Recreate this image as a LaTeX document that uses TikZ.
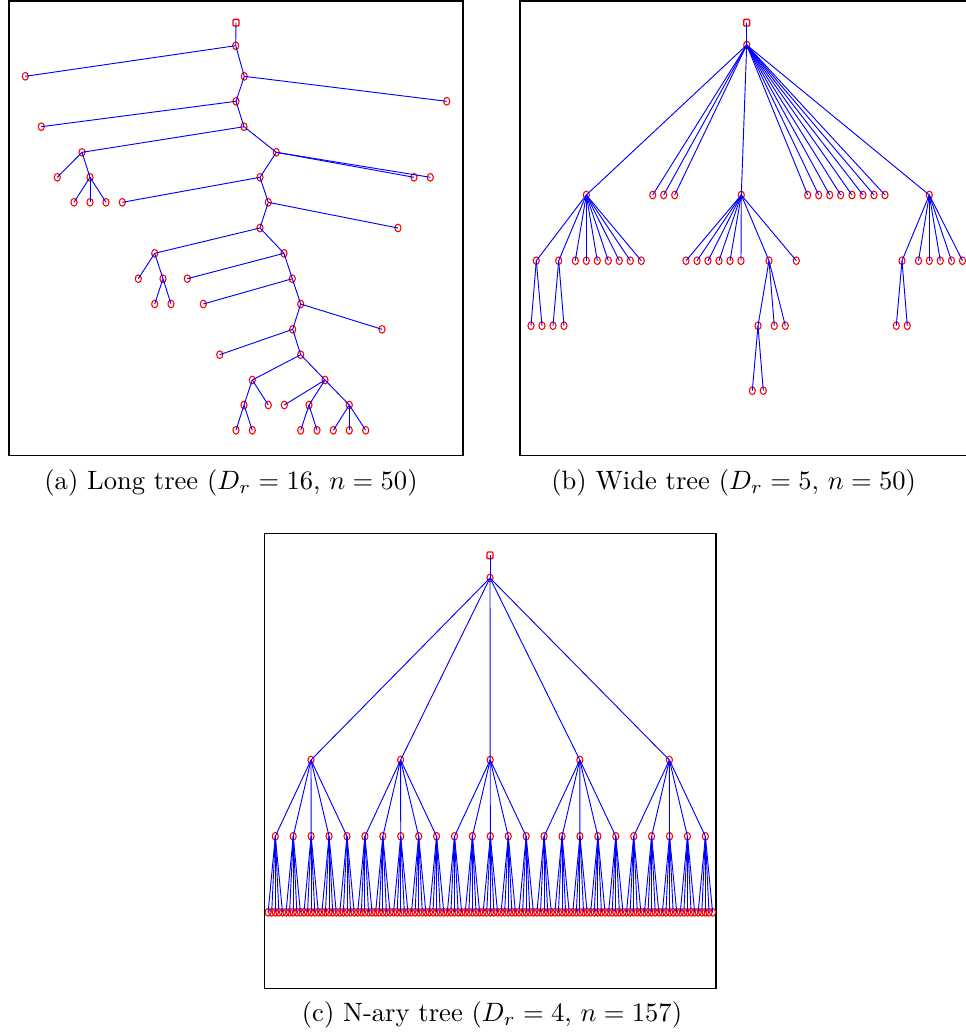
\documentclass[tikz,border=0pt]{standalone}
\usepackage{amsmath}
\usetikzlibrary{shapes.geometric}

\begin{document}
\begin{tikzpicture}[x=0.3766pt, y=-0.3766pt,
  vtx/.style={draw=red, ellipse, line width=0.4pt, inner sep=0pt, minimum width=2.3pt, minimum height=2.9pt},
  rootvtx/.style={draw=red, rectangle, rounded corners=0.4pt, line width=0.5pt, inner sep=0pt, minimum width=2.3pt, minimum height=2.5pt},
  edge/.style={blue, line width=0.35pt},
  frame/.style={line width=0.55pt}]
  \useasboundingbox (0,0) rectangle (966,1033);
  \clip (0,0) rectangle (966,1033);

  % === LONG TREE ===
  \draw[frame] (9,0.8) rectangle (463,455.5);
  \node[rootvtx] (a0) at (236,22.7) {};
  \foreach \i/\x/\y in {1/235.7/45.7, 2/25.3/76.3, 3/244.3/76.3, 4/446.7/101.3, 5/236/101.3,
      6/41.3/126.7, 7/244/126.7, 8/82/152.3, 9/276.3/152.3, 10/57.3/177.3, 11/90/177.3,
      12/74/202.3, 13/90/202.3, 14/106/202.3, 15/414/177.3, 16/430.3/177.3, 17/260/177.3,
      18/122.3/202.3, 19/268.3/202.3, 20/398/228, 21/260/228, 22/154.7/253.3, 23/284/253.3,
      24/138.3/278.7, 25/163/278.7, 26/154.7/304, 27/171/304, 28/187.3/278.7, 29/292.3/278.7,
      30/203.3/304, 31/300.7/304, 32/382/329.3, 33/292.7/329.3, 34/219.7/354.7, 35/300.7/354.7,
      36/252.3/380, 37/325/380, 38/244/405, 39/268.3/405, 40/236/430.3, 41/252.3/430.3,
      42/284.3/405, 43/309/405, 44/349.3/405, 45/300.7/430.3, 46/317/430.3,
      47/333.3/430.3, 48/349.3/430.3, 49/365.7/430.3}
    \node[vtx] (a\i) at (\x,\y) {};
  \foreach \p/\c in {0/1, 1/2, 1/3, 3/4, 3/5, 5/6, 5/7, 7/8, 7/9, 8/10, 8/11, 11/12, 11/13, 11/14,
      9/15, 9/16, 9/17, 17/18, 17/19, 19/20, 19/21, 21/22, 21/23, 22/24, 22/25, 25/26, 25/27,
      23/28, 23/29, 29/30, 29/31, 31/32, 31/33, 33/34, 33/35, 35/36, 35/37, 36/38, 36/39,
      38/40, 38/41, 37/42, 37/43, 37/44, 43/45, 43/46, 44/47, 44/48, 44/49}
    \draw[edge] (a\p.center) -- (a\c.center);
  \node (capA) at (231,483) {(a) Long tree ($D_r = 16$, $n = 50$)};

  % === WIDE TREE ===
  \draw[frame] (520,0.8) rectangle (990,455.5);
  \node[rootvtx] (b0) at (746.7,22.7) {};
  \node[vtx] (b1) at (746.7,45) {};
  \draw[edge] (b0.center) -- (b1.center);
  % depth 2
  \node[vtx] (bP) at (586.3,195) {};
  \node[vtx] (bQ) at (741.3,195) {};
  \node[vtx] (bS) at (929.3,195) {};
  \foreach \n in {bP,bQ,bS}
    \draw[edge] (b1.center) -- (\n.center);
  \foreach \x [count=\k] in {652.7,663.7,674.7,807.7,818.7,829.7,840.7,852,863,874,885} {
    \node[vtx] (bl\k) at (\x,195) {};
    \draw[edge] (b1.center) -- (bl\k.center);
  }
  % depth 3
  \node[vtx] (bP1) at (536.3,260.7) {};
  \node[vtx] (bP2) at (558.7,260.7) {};
  \node[vtx] (bR) at (769,260.7) {};
  \node[vtx] (bS1) at (902,260.7) {};
  \draw[edge] (bP.center) -- (bP1.center);
  \draw[edge] (bP.center) -- (bP2.center);
  \draw[edge] (bQ.center) -- (bR.center);
  \draw[edge] (bS.center) -- (bS1.center);
  \foreach \x [count=\k] in {575.3,586.3,597.3,608.3,619.3,630.3,641.3} {
    \node[vtx] (bPl\k) at (\x,260.7) {};
    \draw[edge] (bP.center) -- (bPl\k.center);
  }
  \foreach \x [count=\k] in {686,697,708,719,730,741,796.3} {
    \node[vtx] (bQl\k) at (\x,260.7) {};
    \draw[edge] (bQ.center) -- (bQl\k.center);
  }
  \foreach \x [count=\k] in {918.5,929.3,940.3,951.5,962.5} {
    \node[vtx] (bSl\k) at (\x,260.7) {};
    \draw[edge] (bS.center) -- (bSl\k.center);
  }
  % depth 4 and 5
  \foreach \x [count=\k] in {531,542} {
    \node[vtx] (bP1l\k) at (\x,325.7) {};
    \draw[edge] (bP1.center) -- (bP1l\k.center);
  }
  \foreach \x [count=\k] in {553,564} {
    \node[vtx] (bP2l\k) at (\x,325.7) {};
    \draw[edge] (bP2.center) -- (bP2l\k.center);
  }
  \node[vtx] (bR1) at (758,325.7) {};
  \draw[edge] (bR.center) -- (bR1.center);
  \foreach \x [count=\k] in {774.3,785.3} {
    \node[vtx] (bRl\k) at (\x,325.7) {};
    \draw[edge] (bR.center) -- (bRl\k.center);
  }
  \foreach \x [count=\k] in {896.3,907.3} {
    \node[vtx] (bS1l\k) at (\x,325.7) {};
    \draw[edge] (bS1.center) -- (bS1l\k.center);
  }
  \foreach \x [count=\k] in {752.3,763.3} {
    \node[vtx] (bR1l\k) at (\x,390.7) {};
    \draw[edge] (bR1.center) -- (bR1l\k.center);
  }
  \node (capB) at (733.7,483) {(b) Wide tree ($D_r = 5$, $n = 50$)};

  % === N-ARY TREE ===
  \draw[frame] (264.5,533.5) rectangle (716,988.3);
  \node[rootvtx] (c0) at (490,555.3) {};
  \node[vtx] (c1) at (490,578) {};
  \draw[edge] (c0.center) -- (c1.center);
  \foreach \i in {0,...,4} {
    \node[vtx] (cm\i) at ({311+89.6*\i},760) {};
    \draw[edge] (c1.center) -- (cm\i.center);
    \foreach \j in {0,...,4} {
      \pgfmathsetmacro\xs{275.3+(5*\i+\j)*17.92}
      \node[vtx] (cs\i-\j) at (\xs,836.3) {};
      \draw[edge] (cm\i.center) -- (cs\i-\j.center);
      \foreach \k in {0,...,4} {
        \node[vtx] (cl\i-\j-\k) at ({\xs+(\k-2)*3.6},912.3) {};
        \draw[edge] (cs\i-\j.center) -- (cl\i-\j-\k.center);
      }
    }
  }
  \node (capC) at (492,1015) {(c) N-ary tree ($D_r = 4$, $n = 157$)};
\end{tikzpicture}
\end{document}
